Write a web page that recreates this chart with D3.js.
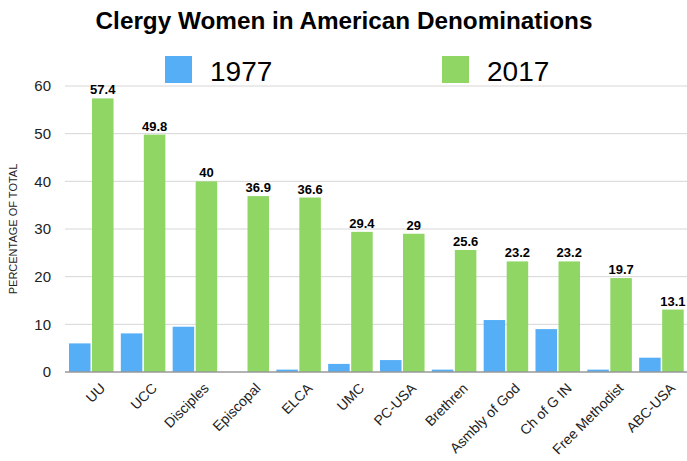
<!DOCTYPE html>
<html>
<head>
<meta charset="utf-8">
<script src="https://cdn.jsdelivr.net/npm/d3@7"></script>
<style>
  body { margin: 0; background: #fff; }
  text { font-family: "Liberation Sans", Arial, sans-serif; }
</style>
</head>
<body>
<svg id="chart"></svg>
<script>
const denominations = ['UU', 'UCC', 'Disciples', 'Episcopal', 'ELCA', 'UMC', 'PC-USA', 'Brethren', 'Asmbly of God', 'Ch of G IN', 'Free Methodist', 'ABC-USA']
const values1977 = [6, 8.1, 9.5, 0, 0.5, 1.7, 2.5, 0.5, 10.9, 9, 0.5, 3]
const values2017 = [57.4, 49.8, 40, 36.9, 36.6, 29.4, 29, 25.6, 23.2, 23.2, 19.7, 13.1]
const seriesNames = ['1977', '2017']
const yTicks = [0, 10, 20, 30, 40, 50, 60]

const colors = { '1977': '#56aef6', '2017': '#8fd664' }

const config = {
    width: 687,
    height: 461,
    margin: { top: 86, right: 0, bottom: 89, left: 65 }
}

const width = config.width - config.margin.left - config.margin.right
const height = config.height - config.margin.top - config.margin.bottom

const svg = d3.select('#chart')
    .attr('width', config.width)
    .attr('height', config.height)

svg.append('text')
    .attr('x', 344)
    .attr('y', 29)
    .attr('text-anchor', 'middle')
    .attr('font-size', 24.3)
    .attr('font-weight', 'bold')
    .text('Clergy Women in American Denominations')

// legend
const legendX = [165, 442]
seriesNames.forEach((s, i) => {
    svg.append('rect')
        .attr('x', legendX[i])
        .attr('y', 56)
        .attr('width', 27)
        .attr('height', 27)
        .attr('fill', colors[s])
    svg.append('text')
        .attr('x', legendX[i] + 45)
        .attr('y', 81)
        .attr('font-size', 28)
        .text(s)
})

const chart = svg.append('g')
    .attr('transform', `translate(${config.margin.left}, ${config.margin.top})`)

const xScale = d3.scaleBand()
    .domain(denominations)
    .range([0, width])

const yScale = d3.scaleLinear()
    .domain([0, 60])
    .range([height, 0])

// gridlines
chart.selectAll('.grid')
    .data(yTicks.filter(d => d > 0))
    .join('line')
        .attr('class', 'grid')
        .attr('x1', 0)
        .attr('x2', width)
        .attr('y1', d => yScale(d))
        .attr('y2', d => yScale(d))
        .attr('stroke', '#d6d6d6')
        .attr('stroke-width', 1)

const yAxis = d3.axisLeft(yScale).tickValues(yTicks).tickSize(0).tickPadding(14)
const yAxisGroup = chart.append('g').call(yAxis)
yAxisGroup.select('.domain').remove()
yAxisGroup.selectAll('text')
    .attr('font-size', 15)
    .attr('fill', '#222')
    .style('font-family', '"Liberation Sans", Arial, sans-serif')

svg.append('text')
    .attr('transform', `translate(17, ${config.margin.top + height / 2}) rotate(-90)`)
    .attr('text-anchor', 'middle')
    .attr('font-size', 11)
    .attr('fill', '#222')
    .text('PERCENTAGE OF TOTAL')

const barW = xScale.bandwidth() * 0.415
const offset = 4

const data = denominations.map((d, i) => ({ name: d, v1977: values1977[i], v2017: values2017[i] }))

chart.selectAll('.bar1977')
    .data(data)
    .join('rect')
        .attr('class', 'bar1977')
        .attr('x', d => xScale(d.name) + offset)
        .attr('y', d => yScale(d.v1977))
        .attr('width', barW)
        .attr('height', d => height - yScale(d.v1977))
        .attr('fill', colors['1977'])

chart.selectAll('.bar2017')
    .data(data)
    .join('rect')
        .attr('class', 'bar2017')
        .attr('x', d => xScale(d.name) + offset + barW + 1.5)
        .attr('y', d => yScale(d.v2017))
        .attr('width', barW)
        .attr('height', d => height - yScale(d.v2017))
        .attr('fill', colors['2017'])

chart.selectAll('.label')
    .data(data)
    .join('text')
        .attr('class', 'label')
        .attr('x', d => xScale(d.name) + offset + barW * 1.5 + 1.5)
        .attr('y', d => yScale(d.v2017) - 4)
        .attr('text-anchor', 'middle')
        .attr('font-size', 13)
        .attr('font-weight', 'bold')
        .text(d => d.v2017)

// x axis line
chart.append('line')
    .attr('x1', 0)
    .attr('x2', width)
    .attr('y1', height)
    .attr('y2', height)
    .attr('stroke', '#999')
    .attr('stroke-width', 1.5)

const xAxis = d3.axisBottom(xScale).tickSize(0)
const xAxisGroup = chart.append('g')
    .attr('transform', `translate(0, ${height})`)
    .call(xAxis)
xAxisGroup.select('.domain').remove()
xAxisGroup.selectAll('text')
    .attr('font-size', 14)
    .attr('fill', '#222')
    .style('font-family', '"Liberation Sans", Arial, sans-serif')
    .attr('text-anchor', 'end')
    .attr('dy', 0)
    .attr('transform', 'translate(13, 15) rotate(-45)')
</script>
</body>
</html>
